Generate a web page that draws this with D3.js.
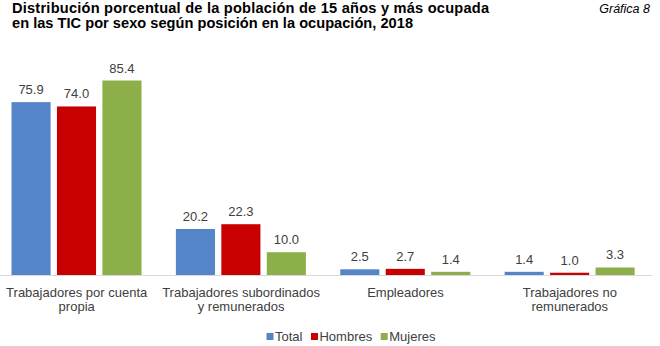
<!DOCTYPE html>
<html><head><meta charset="utf-8">
<script src="https://cdn.jsdelivr.net/npm/d3@7"></script>
<style>body{margin:0;background:#fff}svg{display:block}</style>
</head><body>
<script>
const categories = [["Trabajadores por cuenta","propia"],["Trabajadores subordinados","y remunerados"],["Empleadores"],["Trabajadores no","remunerados"]];
const seriesNames = ["Total","Hombres","Mujeres"];
const total = [75.9, 20.2, 2.5, 1.4];
const hombres = [74.0, 22.3, 2.7, 1.0];
const mujeres = [85.4, 10.0, 1.4, 3.3];
const colors = ["#5585c9","#c80000","#8caf4a"];
const series = [total, hombres, mujeres];

const W = 660, H = 346;
const svg = d3.select("body").append("svg").attr("width", W).attr("height", H)
  .style("font-family", "'Liberation Sans', Arial, sans-serif");

svg.append("text").attr("x", 12).attr("y", 13).attr("font-weight", "bold").attr("font-size", 14.6).attr("fill", "#000")
  .attr("textLength", 477).attr("lengthAdjust", "spacing")
  .text("Distribución porcentual de la población de 15 años y más ocupada");
svg.append("text").attr("x", 12).attr("y", 28).attr("font-weight", "bold").attr("font-size", 14.6).attr("fill", "#000")
  .attr("textLength", 401).attr("lengthAdjust", "spacing")
  .text("en las TIC por sexo según posición en la ocupación, 2018");
svg.append("text").attr("x", 650).attr("y", 13).attr("text-anchor", "end").attr("font-style", "italic").attr("font-size", 12.5).attr("fill", "#000")
  .text("Gráfica 8");

const baseY = 275;
const y = d3.scaleLinear().domain([0, 85.4]).range([baseY, 80.5]);
const x0 = d3.scaleBand().domain(d3.range(categories.length)).range([-5.5, 652]).paddingInner(0).paddingOuter(0);
const x1 = d3.scaleBand().domain(d3.range(seriesNames.length)).range([17, 147]).paddingInner(0.14);

svg.append("line").attr("x1", 0).attr("x2", 652).attr("y1", baseY + 0.5).attr("y2", baseY + 0.5)
  .attr("stroke", "#d9d9d9").attr("stroke-width", 1);

const g = svg.selectAll("g.grp").data(categories).join("g").attr("class", "grp")
  .attr("transform", (d, i) => `translate(${x0(i)},0)`);

series.forEach((vals, s) => {
  g.append("rect")
    .attr("x", x1(s)).attr("width", x1.bandwidth())
    .attr("y", (d, i) => y(vals[i])).attr("height", (d, i) => baseY - y(vals[i]))
    .attr("fill", colors[s]);
  g.append("text")
    .attr("x", x1(s) + x1.bandwidth() / 2).attr("y", (d, i) => y(vals[i]) - 8)
    .attr("text-anchor", "middle").attr("font-size", 13).attr("fill", "#404040")
    .text((d, i) => vals[i].toFixed(1));
});

g.each(function(d, i) {
  const t = d3.select(this).append("text").attr("text-anchor", "middle").attr("font-size", 13).attr("fill", "#404040");
  d.forEach((line, k) => {
    t.append("tspan").attr("x", x0.bandwidth() / 2).attr("y", 296.5 + k * 14.5).text(line);
  });
});

const legend = svg.append("g");
let lx = 266.5;
seriesNames.forEach((n, s) => {
  legend.append("rect").attr("x", lx).attr("y", 333).attr("width", 7).attr("height", 7).attr("fill", colors[s]);
  const t = legend.append("text").attr("x", lx + 8.5).attr("y", 340.5).attr("font-size", 13).attr("fill", "#404040").text(n);
  lx += 8.5 + t.node().getComputedTextLength() + 8.5;
});
</script>
</body></html>
